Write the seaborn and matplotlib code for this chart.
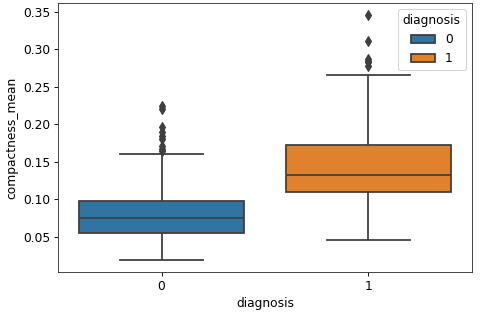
import pandas as pd
import matplotlib
matplotlib.use("Agg")
import matplotlib.pyplot as plt
import seaborn as sns

# compactness_mean values per diagnosis group
benign = [0.01938, 0.0242, 0.0298, 0.0352, 0.0398, 0.0435, 0.0468, 0.0497, 0.0523, 0.0545,
          0.05562, 0.0578, 0.0596, 0.0615, 0.0632, 0.0651, 0.0670, 0.0689, 0.0706, 0.0724,
          0.07529, 0.0774, 0.0797, 0.0821, 0.0842, 0.0866, 0.0889, 0.0912, 0.0934, 0.0957,
          0.09789, 0.161, 0.165, 0.167, 0.171, 0.180, 0.184, 0.190, 0.197, 0.2204, 0.2239]
malignant = [0.04605, 0.0620, 0.0745, 0.0842, 0.0920, 0.0985, 0.1045,
             0.1097, 0.1130, 0.1165, 0.1198, 0.1232, 0.1265, 0.1295,
             0.1323, 0.1380, 0.1438, 0.1497, 0.1556, 0.1615, 0.1670,
             0.1724, 0.2660, 0.2776, 0.2832, 0.2839, 0.2867, 0.3114, 0.3454]
groups = ["0", "1"]

data = pd.DataFrame({
    "diagnosis": [groups[0]] * len(benign) + [groups[1]] * len(malignant),
    "compactness_mean": benign + malignant,
})

plt.rcParams["font.size"] = 11
plt.rcParams["axes.edgecolor"] = "#333333"

fig, ax = plt.subplots(figsize=(6, 3.95), dpi=80)
sns.boxplot(x="diagnosis", y="compactness_mean", hue="diagnosis", data=data,
            order=groups, hue_order=groups, ax=ax, linecolor="#3f3f3f", linewidth=1.6,
            flierprops=dict(marker="d", markersize=6, markerfacecolor="#3f3f3f",
                            markeredgecolor="#3f3f3f"),
            legend=True)
ax.legend(title="diagnosis", loc="upper right")
fig.subplots_adjust(left=0.121, right=0.983, top=0.99, bottom=0.139)
fig.savefig("out.png", dpi=80)
